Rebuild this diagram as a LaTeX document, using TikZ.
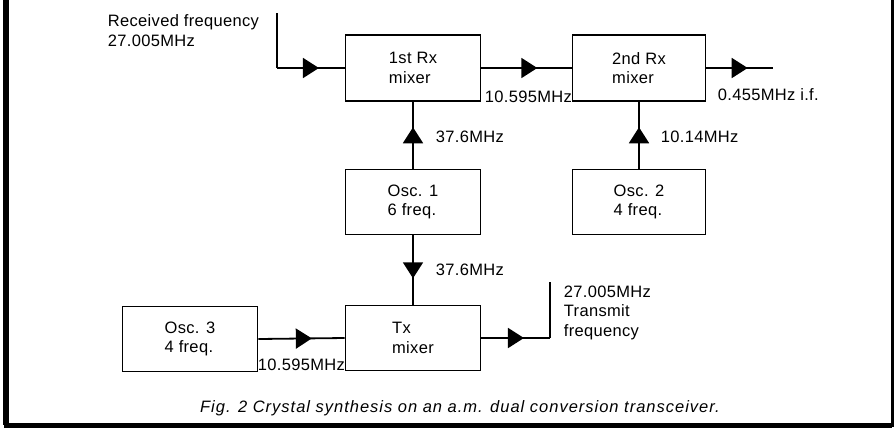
\documentclass[tikz,border=0pt]{standalone}
\usepackage{fontspec}
\setmainfont{Liberation Sans}[LetterSpace=2]
\newfontfamily\capfont{Liberation Sans}[LetterSpace=6]
\usetikzlibrary{arrows.meta,decorations.markings}
\begin{document}
\begin{tikzpicture}[x=1pt, y=-1pt, font=\fontsize{16.5}{19.5}\selectfont, line width=1.8pt,
  blk/.style={draw, minimum width=135pt, minimum height=66pt, align=left},
  flow/.style={postaction={decorate}, decoration={markings, mark=at position 0.62 with {\arrow{Triangle[length=16pt,width=20pt]}}}},
  lbl/.style={inner sep=0pt, anchor=base west, align=left}]
  \useasboundingbox (0,0) rectangle (896,432);
  % frame
  \draw[line width=6pt] (6,0) -- (6,425);
  \draw[line width=5pt] (3.5,425) -- (892,425);
  \draw[line width=3pt] (892,0) -- (892,426.5);
  % blocks
  \node[blk] (m1)   at (413,68)  {1st Rx\\mixer};
  \node[blk, minimum width=133pt] (m2) at (639,68) {2nd Rx\\mixer};
  \node[blk, minimum height=65pt] (osc1) at (413,202) {Osc. 1\\6 freq.};
  \node[blk, minimum width=133pt, minimum height=65pt] (osc2) at (639,202) {Osc. 2\\4 freq.};
  \node[blk, minimum height=65pt] (osc3) at (190,339) {Osc. 3\\4 freq.};
  \node[blk, minimum height=65pt] (tx)   at (413,338) {Tx\\mixer};
  \coordinate (rxtop) at (277,13);
  \coordinate (rxc) at (277,68);
  \coordinate (ifout) at (773,68);
  \coordinate (txc) at (550,338);
  \coordinate (txtop) at (550,282);
  % connectors
  \draw (rxtop) -- (rxc);
  \draw[flow] (rxc) -- (m1.west);
  \draw[flow] (m1.east) -- (m2.west);
  \draw[flow] (m2.east) -- (ifout);
  \draw[flow] (osc1.north) -- (m1.south);
  \draw[flow] (osc2.north) -- (m2.south);
  \draw[flow] (osc1.south) -- (tx.north);
  \draw[flow] (osc3.east) -- (tx.west);
  \draw[flow] (tx.east) -- (txc);
  \draw (txc) -- (txtop);
  % labels
  \node[lbl, anchor=north west] (rxlbl) at (107,14) {Received frequency\\27.005MHz};
  \node[lbl] (f1) at (484,102) {10.595MHz};
  \node[lbl] (f2) at (717,100) {0.455MHz i.f.};
  \node[lbl] (f3) at (435,142) {37.6MHz};
  \node[lbl] (f4) at (660,142) {10.14MHz};
  \node[lbl] (f5) at (435,275) {37.6MHz};
  \node[lbl] (f6) at (257,370) {10.595MHz};
  \node[lbl, anchor=north west] (txlbl) at (563,285) {27.005MHz\\Transmit\\frequency};
  \node[inner sep=0pt] (cap) at (460,408) {\capfont\itshape Fig. 2 Crystal synthesis on an a.m. dual conversion transceiver.};
\end{tikzpicture}
\end{document}
